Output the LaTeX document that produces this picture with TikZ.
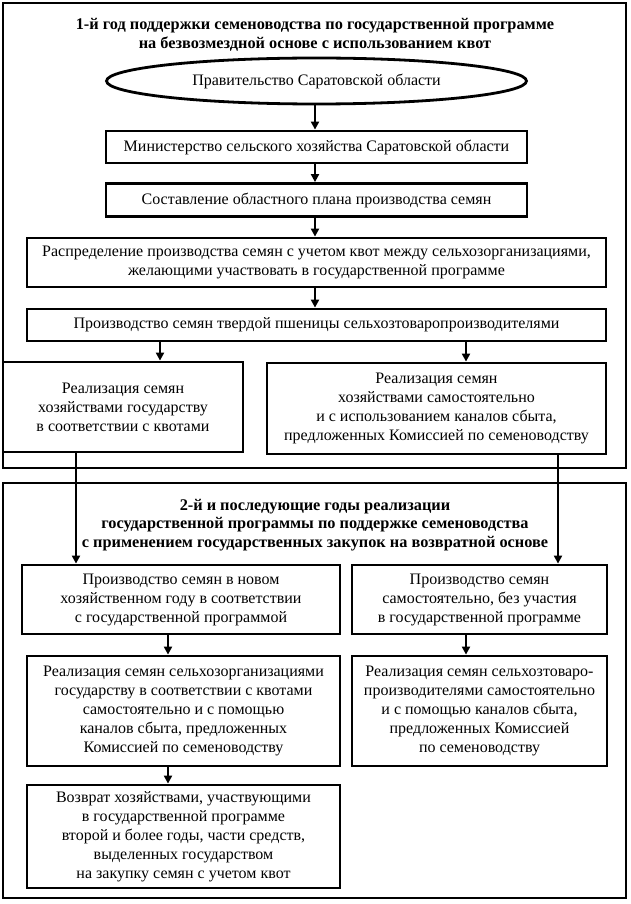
\documentclass[tikz,border=0pt]{standalone}
\usepackage{fontspec}
\setmainfont{Liberation Serif}
\usetikzlibrary{shapes.geometric,arrows.meta}
\begin{document}
\begin{tikzpicture}[x=1pt,y=-1pt,
  frame/.style={draw,line width=2.8pt,inner sep=0pt},
  box/.style={draw,line width=2.8pt,inner sep=0pt,align=center,font=\fontsize{16}{19}\selectfont},
  ttl/.style={align=center,inner sep=0pt,font=\fontsize{16.3}{18.8}\selectfont\bfseries},
  arr/.style={line width=2.4pt,-{Triangle[length=8pt,width=8pt]}}]
\useasboundingbox (0,0) rectangle (630,904);
\fill[white] (0,0) rectangle (630,904);
% frames
\node[frame,minimum width=623pt,minimum height=465pt] (f1) at (314.5,235.5) {};
\node[frame,minimum width=623pt,minimum height=415pt] (f2) at (314.5,690.5) {};
\node[ttl] (t1) at (315,34.5) {1-й год поддержки семеноводства по государственной программе\\на безвозмездной основе с использованием квот};
\node[ttl] (t2) at (315,525) {2-й и последующие годы реализации\\государственной программы по поддержке семеноводства\\с применением государственных закупок на возвратной основе};
% nodes
\node[box,ellipse,minimum width=420pt,minimum height=46pt] (e) at (316.5,81) {Правительство Саратовской области};
\node[box,minimum width=421pt,minimum height=32pt] (b2) at (316.5,147) {Министерство сельского хозяйства Саратовской области};
\node[box,minimum width=421pt,minimum height=33pt] (b3) at (316.5,200) {Составление областного плана производства семян};
\node[box,minimum width=579pt,minimum height=49pt] (b4) at (316.5,262.5) {Распределение производства семян с учетом квот между сельхозорганизациями,\\желающими участвовать в государственной программе};
\node[box,minimum width=579pt,minimum height=32pt] (b5) at (316.5,325) {Производство семян твердой пшеницы сельхозтоваропроизводителями};
\node[box,minimum width=240pt,minimum height=90pt] (b6) at (123,407) {Реализация семян\\хозяйствами государству\\в соответствии с квотами};
\node[box,minimum width=339pt,minimum height=91pt] (b7) at (436.5,408.5) {Реализация семян\\хозяйствами самостоятельно\\и с использованием каналов сбыта,\\предложенных Комиссией по семеноводству};
\node[box,minimum width=318pt,minimum height=69pt] (b8) at (181,599.5) {Производство семян в новом\\хозяйственном году в соответствии\\с государственной программой};
\node[box,minimum width=255pt,minimum height=69pt] (b9) at (479.5,599.5) {Производство семян\\самостоятельно, без участия\\в государственной программе};
\node[box,minimum width=313pt,minimum height=110pt] (b10) at (183.5,711) {Реализация семян сельхозорганизациями\\государству в соответствии с квотами\\самостоятельно и с помощью\\каналов сбыта, предложенных\\Комиссией по семеноводству};
\node[box,minimum width=255pt,minimum height=110pt] (b11) at (479.5,711) {Реализация семян сельхозтоваро-\\производителями самостоятельно\\и с помощью каналов сбыта,\\предложенных Комиссией\\по семеноводству};
\node[box,minimum width=313pt,minimum height=103pt] (b12) at (183.5,836.5) {Возврат хозяйствами, участвующими\\в государственной программе\\второй и более годы, части средств,\\выделенных государством\\на закупку семян с учетом квот};
% x positions
\coordinate (x0) at (315,0);
\coordinate (xa) at (160,0);
\coordinate (xb) at (466,0);
\coordinate (xc) at (76,0);
\coordinate (xd) at (558,0);
\coordinate (xe) at (168,0);
% arrows
\draw[arr] (e.south -| x0) -- (b2.north -| x0);
\draw[arr] (b2.south -| x0) -- (b3.north -| x0);
\draw[arr] (b3.south -| x0) -- (b4.north -| x0);
\draw[arr] (b4.south -| x0) -- (b5.north -| x0);
\draw[arr] (b5.south -| xa) -- (b6.north -| xa);
\draw[arr] (b5.south -| xb) -- (b7.north -| xb);
\draw[arr] (b6.south -| xc) -- (b8.north -| xc);
\draw[arr] (b7.south -| xd) -- (b9.north -| xd);
\draw[arr] (b8.south -| xe) -- (b10.north -| xe);
\draw[arr] (b9.south -| xb) -- (b11.north -| xb);
\draw[arr] (b10.south -| xe) -- (b12.north -| xe);
\end{tikzpicture}
\end{document}
